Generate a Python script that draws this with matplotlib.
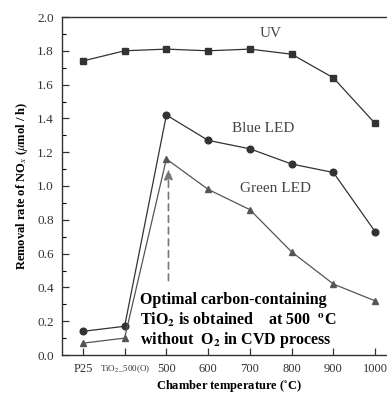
import matplotlib
matplotlib.use("Agg")
import matplotlib.pyplot as plt

categories = ["P25", "TiO$_2$_500(O)", "500", "600", "700", "800", "900", "1000"]
uv = [1.74, 1.80, 1.81, 1.80, 1.81, 1.78, 1.64, 1.37]
blue = [0.14, 0.17, 1.42, 1.27, 1.22, 1.13, 1.08, 0.73]
green = [0.07, 0.10, 1.16, 0.98, 0.86, 0.61, 0.42, 0.32]
yticks = [0.0, 0.2, 0.4, 0.6, 0.8, 1.0, 1.2, 1.4, 1.6, 1.8, 2.0]

plt.rcParams['font.family'] = ['Liberation Serif', 'DejaVu Serif']
plt.rcParams['mathtext.fontset'] = 'stix'

fig = plt.figure(figsize=(3.87, 3.95), dpi=100)
ax = fig.add_axes([62/387, 1-355/395, 334/387, 338/395])

x = list(range(len(categories)))
ax.plot(x, uv, '-s', color='#333333', lw=0.9, ms=4.5, mfc='#333333', mec='#333333')
ax.plot(x, blue, '-o', color='#333333', lw=0.9, ms=4.8, mfc='#333333', mec='#333333')
ax.plot(x, green, '-^', color='#555555', lw=0.9, ms=5, mfc='#555555', mec='#555555')

ax.annotate('', xy=(2.05, 1.10), xytext=(2.05, 0.44),
            arrowprops=dict(arrowstyle='-|>,head_width=0.25,head_length=0.6',
                            color='#777777', lw=1.2, ls=(0, (4, 3)),
                            shrinkA=0, shrinkB=0))

ax.text(4.5, 1.905, 'UV', fontsize=11, color='#444444', ha='center', va='center')
ax.text(4.32, 1.34, 'Blue LED', fontsize=11, color='#444444', ha='center', va='center')
ax.text(4.62, 0.985, 'Green LED', fontsize=11, color='#444444', ha='center', va='center')

ax.text(1.36, 0.326, 'Optimal carbon-containing', fontsize=11.5, fontweight='bold', va='center')
ax.text(1.36, 0.205, 'TiO$_\\mathbf{2}$ is obtained    at 500  $^{\\mathbf{o}}$C', fontsize=11.5, fontweight='bold', va='center')
ax.text(1.36, 0.09, 'without  O$_\\mathbf{2}$ in CVD process', fontsize=11.5, fontweight='bold', va='center')

ax.set_xlim(-0.5, 7.5)
ax.set_ylim(0, 2.0)
ax.set_xticks(x)
ax.set_xticklabels(categories, fontsize=9)
for lbl in ax.get_xticklabels():
    if 'TiO' in lbl.get_text():
        lbl.set_fontsize(6.5)
ax.set_yticks(yticks)
ax.set_yticklabels([f"{v:.1f}" for v in yticks], fontsize=9.5)
ax.set_yticks([v + 0.1 for v in yticks[:-1]], minor=True)
ax.tick_params(axis='both', direction='in', length=5, width=0.9, color='#333333', labelcolor='#333333')
ax.tick_params(axis='y', which='minor', direction='in', length=3, width=0.8)
ax.tick_params(axis='x', pad=6)
ax.tick_params(axis='y', pad=6)
for s in ax.spines.values():
    s.set_linewidth(1.0)
    s.set_color('#333333')

ax.set_xlabel('Chamber temperature ($^{\\circ}$C)', fontsize=9, fontweight='bold', labelpad=2)
ax.set_ylabel('Removal rate of NO$_x$ ($\\mu$mol / h)', fontsize=9, fontweight='bold', labelpad=5)

fig.savefig('out.png', dpi=100)
